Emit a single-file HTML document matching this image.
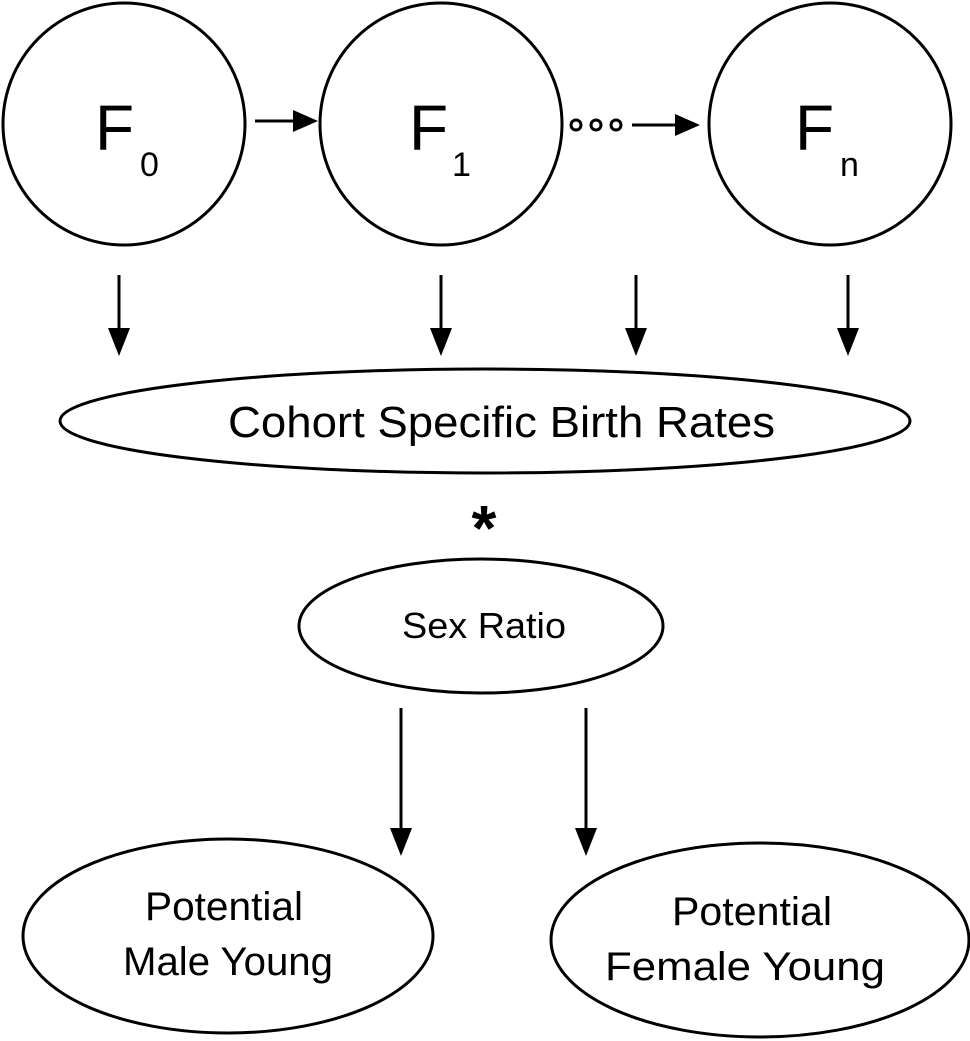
<!DOCTYPE html>
<html><head><style>html,body{margin:0;padding:0;background:#fff}svg{display:block}</style></head>
<body>
<svg width="970" height="1041" viewBox="0 0 970 1041" xmlns="http://www.w3.org/2000/svg" font-family="Liberation Sans, sans-serif">
<g fill="none" stroke="#000" stroke-width="3">
<circle cx="124" cy="124" r="121"/>
<circle cx="441" cy="124" r="121"/>
<circle cx="830" cy="124" r="121"/>
<ellipse cx="485" cy="421" rx="425" ry="52"/>
<ellipse cx="481" cy="626" rx="182" ry="67"/>
<ellipse cx="228" cy="936" rx="205" ry="97"/>
<ellipse cx="760" cy="940" rx="209" ry="97"/>
<circle cx="576" cy="125" r="5"/>
<circle cx="596" cy="125" r="5"/>
<circle cx="616" cy="125" r="5"/>
<line x1="255" y1="121" x2="300" y2="121"/>
<line x1="632" y1="125" x2="680" y2="125"/>
<line x1="119" y1="275" x2="119" y2="330"/>
<line x1="441" y1="275" x2="441" y2="330"/>
<line x1="636" y1="275" x2="636" y2="330"/>
<line x1="848" y1="275" x2="848" y2="330"/>
<line x1="401" y1="708" x2="401" y2="830"/>
<line x1="586" y1="708" x2="586" y2="830"/>
</g>
<g fill="#000">
<polygon points="318,121 293,110 293,132"/>
<polygon points="700,125 675,114 675,136"/>
<polygon points="119,356 108,328 130,328"/>
<polygon points="441,356 430,328 452,328"/>
<polygon points="636,356 625,328 647,328"/>
<polygon points="848,356 837,328 859,328"/>
<polygon points="401,856 390,828 412,828"/>
<polygon points="586,856 575,828 597,828"/>
</g>
<g fill="#000">
<text x="95" y="150" font-size="64">F</text><text x="140" y="176" font-size="34">0</text>
<text x="409" y="150" font-size="64">F</text><text x="452" y="176" font-size="34">1</text>
<text x="795" y="150" font-size="64">F</text><text x="840" y="176" font-size="34">n</text>
<text x="228" y="437" font-size="44" textLength="547" lengthAdjust="spacingAndGlyphs">Cohort Specific Birth Rates</text>
<text x="484" y="550" font-size="64" font-weight="bold" text-anchor="middle">*</text>
<text x="402" y="638" font-size="36" textLength="164" lengthAdjust="spacingAndGlyphs">Sex Ratio</text>
<text x="145" y="920" font-size="40" textLength="158" lengthAdjust="spacingAndGlyphs">Potential</text>
<text x="123" y="975" font-size="40" textLength="210" lengthAdjust="spacingAndGlyphs">Male Young</text>
<text x="672" y="925" font-size="40" textLength="160" lengthAdjust="spacingAndGlyphs">Potential</text>
<text x="605" y="980" font-size="40" textLength="280" lengthAdjust="spacingAndGlyphs">Female Young</text>
</g>
</svg>
</body></html>
